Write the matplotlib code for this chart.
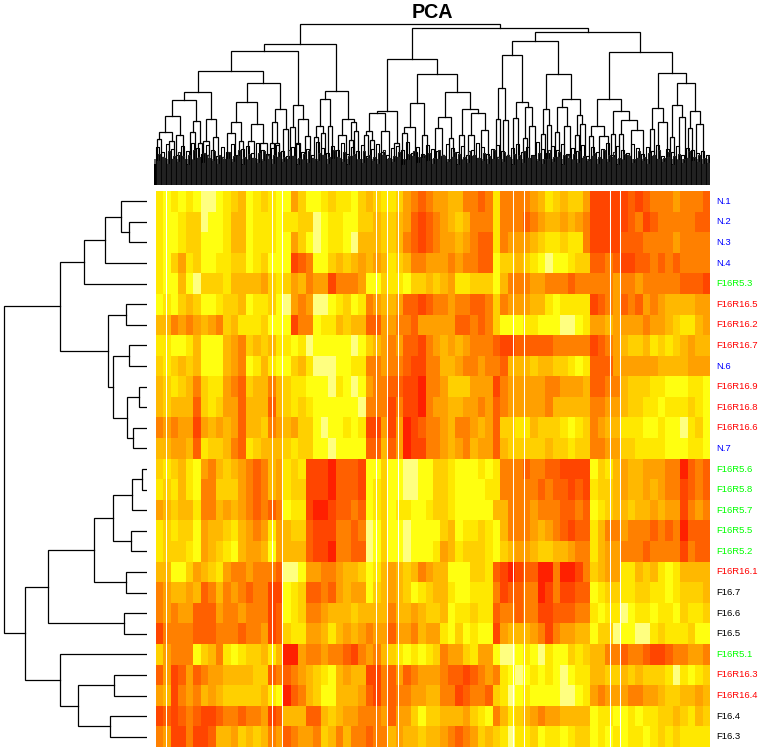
import matplotlib
matplotlib.use("Agg")
import matplotlib.pyplot as plt
from matplotlib.colors import ListedColormap
import numpy as np

plt.rcParams["font.family"] = ["Liberation Sans", "DejaVu Sans"]

TITLE = "PCA"
ROW_LABELS = ["N.1", "N.2", "N.3", "N.4", "F16R5.3", "F16R16.5", "F16R16.2", "F16R16.7", "N.6",
              "F16R16.9", "F16R16.8", "F16R16.6", "N.7", "F16R5.6", "F16R5.8", "F16R5.7", "F16R5.5",
              "F16R5.2", "F16R16.1", "F16.7", "F16.6", "F16.5", "F16R5.1", "F16R16.3", "F16R16.4",
              "F16.4", "F16.3"]
LABEL_COLORS = ["#0000ff"] * 4 + ["#00ff00"] + ["#ff0000"] * 3 + ["#0000ff"] + ["#ff0000"] * 3 + ["#0000ff"] \
    + ["#00ff00"] * 5 + ["#ff0000"] + ["black"] * 3 + ["#00ff00"] + ["#ff0000"] * 2 + ["black"] * 2

# heat levels, 0 = red ... 9 = pale yellow, one string per row
heat_left = [
    "7878789987 6587678846 8876778656 77643234",
    "7887669887 5587778776 6987788665 66542123",
    "7887668887 5587778846 8987789555 66532123",
    "7864768877 6687688812 3886565454 57653344",
    "7885896667 5555467645 3441333488 67786656",
    "8786568876 6587768943 4998768734 55422123",
    "5534345436 5777688813 3877565522 44332444",
    "7788758885 4365657787 9888889865 43422134",
    "6765658885 4387578865 7999887733 43321133",
    "5676536774 3265535677 8889789843 32211033",
    "5655526764 4255525676 7888888933 31311034",
    "3434414545 4255634546 6898878711 41401233",
    "5544527665 3276555676 6889888822 52401133",
    "6765784356 5432354767 1110222188 68899886",
    "7675783366 6432354766 1110222187 68899886",
    "4565573354 5432323877 1001223287 68778876",
    "7676684556 7543474566 2111332398 68898888",
    "7666784567 8544584555 2110332298 68898887",
    "5588645674 3343332998 4433455687 54565345",
    "3455452353 4323311876 2232454486 54568765",
    "3434422243 3433312876 3345556555 53554566",
    "1333322233 3233412677 4457545434 42443544",
    "6433386537 8766575004 3343321343 56787876",
    "2412423445 5556623234 5678545511 32423444",
    "4513435456 6666578023 5688555421 32334455",
    "1212321123 3233412555 2256544333 42446866",
    "3411311255 4656534234 4365353323 35455655",
]
heat_right = [
    "45533237 3333457656 6411111212 33343332",
    "4565333733 3234554543 1111123123 333322",
    "44543227 3444567767 7311112223 33343333",
    "4343322866 5678988766 2232112232 323333",
    "5477666853 3344333233 3334334333 332221",
    "3433223634 4455787777 1234232434 555544",
    "4422323688 8778889987 4454444344 567754",
    "5454333211 2222233333 1234566576 765455",
    "5543343325 5565566787 2224444445 555444",
    "4666444134 4444334445 2233566677 888778",
    "4554434234 4444355555 3344566778 777678",
    "4533454266 7756667876 3455777887 889768",
    "4543544256 6666566766 3344667777 888778",
    "6788878733 3233221111 8675455444 330232",
    "6788887733 3332322121 7665455454 331232",
    "6788888553 3343332232 8765565545 441343",
    "6587767853 3345432122 7533433323 230222",
    "4576667865 4456655433 7544333233 331322",
    "5888667210 1220030013 6544775657 875555",
    "5788777312 2330131122 8766776677 876665",
    "5877677233 2331122233 7877987787 786776",
    "7868788145 5543134455 8669889976 777688",
    "3446744899 8789788676 5533233211 233443",
    "3221234378 9878789877 5566565666 797876",
    "3312332679 8788889987 4344433445 665545",
    "5554678357 6543445555 8778878776 656756",
    "4323465679 7768778766 8787877876 767777",
]
# columns with no data (white lines), in heat column units
missing_cols = [1.33, 15.43, 16.89, 29.43, 30.85, 32.3, 47.7, 49.1, 60.7, 62.04]

# row tree: (height, upper, lower), plain ints are rows
row_tree = (143.3,
            (86.7,
             (63,
              (41.7, (26, 0, (17.7, 1, 2)), 3),
              4),
             (39,
              (20.7, 5, 6),
              (33.7,
               (17.7, 7, 8),
               (19.7, (7.7, 9, 10), (14.3, 11, 12))))),
            (122,
             (99.3,
              (53.3,
               (34.3, (14.7, (5.3, 13, 14), 15), (15.7, 16, 17)),
               (21.3, 18, 19)),
              (23.3, 20, 21)),
             (86.7,
              22,
              (69, (33.3, 23, 24), (36.7, 25, 26)))))

# column tree: (height, left, right), plain numbers are leaf ranks
col_tree = (160.7,
            (140.7,
             (134.3,
              (114,
               (93,
                (84.7,
                 (69.3, (53, (46, 1.3, 5.3), (44, 13, 18)), (50.3, 20.3, 26.7)),
                 (64, (53.3, 34.3, 38.7), (41.7, 41.7, 45.7))),
                (66.3, (43.7, 47.3, 53.3), (48.3, 57.3, 62.3))),
               (102.3,
                (82.7,
                 (63.3, (51.7, 70.7, 79), (44.3, 83, 87.3)),
                 (60.7, (44, 92.3, 98.3), (41.7, 103.7, 110.7))),
                (76,
                 (63.3, (42.3, 114.3, 118.3), (41.7, 119, 123)),
                 (55.7, 127.3, 132.3)))),
              (80, (57.7, 134.3, 139), (66.3, (42, 140.3, 144.3), (49, 149, 154)))),
             (94,
              (85.7,
               (58.7, (48.3, 157.7, 161.7), (51.7, 165.3, 169.3)),
               (58.7, 172.3, 176.3)),
              (66,
               (50, 181.7, 189.7),
               (62.7, (45, 192.7, 196.7), (54, 198.3, 202.3))))),
            (156.7,
             (126,
              (74,
               (71.7,
                (54.3, (50.3, 207.7, 212.3), (45, 214.3, 218.3)),
                (54.3, 224.7, 233)),
               (41.7, 238.3, 242.7)),
              (110.7,
               (82.3,
                (58, (51.7, 245.7, 250.7), (33, 257.3, 261.3)),
                (49.7, 265.7, 270.7)),
               (92.7,
                (67.7, (57, 278.7, 286), (46.7, 293.3, 297.3)),
                (76,
                 (50, 303.3, 308.3),
                 (72.3, (50, 312.3, 318.3), (54.7, 324.7, 332.3)))))),
             (153.3,
              (144,
               (130,
                (97.3, (65.7, 339.7, 343.7), (65, 347, 351.7)),
                (83,
                 (66.7, 356.7, 362.3),
                 (78.3, (46.7, 366.7, 370.7), (59.3, 373, 379.3)))),
               (110.7,
                (75.7, (51, 384.7, 388.7), (60, 391.3, 395.3)),
                (86.3,
                 (78, (53.3, 398.7, 402.7), (59.3, 408.3, 414)),
                 (70, (50, 419, 423), (61.3, 424, 428.7))))),
              (132.7,
               (86.3,
                (59, (49.3, 433.3, 437.3), (48.7, 443.3, 452)),
                (74,
                 (50.7, 455.3, 459.3),
                 (65, (51, 462.7, 466.7), (54.7, 474.7, 487)))),
               (111.7,
                (77.3, (56, 494.3, 498.3), (63.3, 502.3, 511.3)),
                (101.7,
                 (80.3, (48, 513.7, 517.7), (68.3, 523, 529.3)),
                 (74.3, (56.7, 532.3, 536.3), (61, 539.7, 547.3))))))))

# small merges at the bottom of the column tree, one per 5 leaves
upper_twigs = [38, 33, 41, 36, 30, 39, 34, 42, 37, 31, 40, 35, 29, 38, 33, 41, 30, 36, 39, 32, 42, 35, 31, 37, 40, 34, 29,
               38, 41, 33, 36, 30, 43, 37, 32, 39, 35, 42, 31, 38, 34, 40, 29, 36, 41, 33, 30, 37, 39, 35, 43, 32, 38, 31,
               40, 36, 34, 29, 41, 37, 33, 39, 30, 35, 42, 38, 31, 36, 40, 34, 29, 37, 41, 33, 38, 30, 43, 36, 32, 39, 35,
               41, 31, 37, 34, 40, 29, 38, 33, 36, 42, 30, 39, 35, 32, 41, 37, 31, 38, 34, 40, 29, 36, 33, 39, 30, 37, 35,
               32, 34, 30]
mid_twigs = [31, 27, 34, 29, 33, 26, 30, 35, 28, 32, 27, 34, 30, 26, 33, 29, 35, 28, 31, 27, 32, 34, 26, 30, 33, 28, 35,
             29, 27, 31, 34, 26, 32, 30, 28, 35, 27, 33, 29, 31, 26, 34, 30, 28, 32, 35, 27, 29, 33, 26, 31, 34, 28, 30,
             32, 27, 35, 29, 26, 33, 31, 28, 34, 30, 27, 32, 29, 35, 26, 33, 28, 31, 30, 34, 27, 29, 32, 26, 35, 28, 33,
             30, 27, 31, 34, 29, 26, 32, 28, 35, 30, 33, 27, 31, 29, 26, 34, 28, 32, 30, 35, 27, 33, 29, 31, 26, 34, 28,
             30, 27, 29]
lower_twigs = [24, 28, 21, 26, 23, 29, 20, 25, 27, 22, 30, 24, 21, 28, 26, 23, 29, 20, 25, 27, 22, 24, 30, 21, 28, 23, 26,
               29, 20, 25, 22, 27, 24, 30, 21, 26, 28, 23, 20, 29, 25, 22, 27, 24, 21, 30, 26, 23, 28, 20, 25, 29, 22, 27,
               24, 21, 26, 30, 23, 28, 20, 25, 22, 29, 27, 24, 21, 26, 28, 23, 30, 20, 25, 22, 27, 29, 24, 21, 26, 23, 28,
               20, 30, 25, 22, 27, 24, 29, 21, 26, 23, 28, 20, 25, 30, 22, 27, 24, 21, 29, 26, 23, 28, 20, 25, 22, 27, 24,
               23, 21, 22]
dense_floor = 21
heat_colors = ["#ff2000", "#ff4500", "#ff6000", "#ff8000", "#ffa000", "#ffb800", "#ffd000", "#ffe800", "#ffff10", "#ffff80"]


def draw_col_tree(ax, node):
    if not isinstance(node, tuple):
        return node, 0
    h, left, right = node
    xl, hl = draw_col_tree(ax, left)
    xr, hr = draw_col_tree(ax, right)
    ax.plot([xl, xl, xr, xr], [hl, h, h, hr], color="black", lw=0.9, solid_joinstyle="miter")
    return (xl + xr) / 2, h


def draw_row_tree(ax, node):
    if not isinstance(node, tuple):
        return node + 0.5, 0
    h, upper, lower = node
    yu, hu = draw_row_tree(ax, upper)
    yl, hl = draw_row_tree(ax, lower)
    ax.plot([hu, h, h, hl], [yu, yu, yl, yl], color="black", lw=0.9, solid_joinstyle="miter")
    return (yu + yl) / 2, h


W, H = 764, 751
fig = plt.figure(figsize=(W / 100, H / 100), dpi=100)

# heatmap
rows = [(a + b).replace(" ", "") for a, b in zip(heat_left, heat_right)]
values = np.array([[int(c) for c in r] for r in rows])
ax = fig.add_axes([156 / W, (H - 747) / H, 554 / W, 556 / H])
ax.imshow(values, cmap=ListedColormap(heat_colors), vmin=0, vmax=9, aspect="auto",
          interpolation="nearest", extent=(0, values.shape[1], values.shape[0], 0))
for col in missing_cols:
    ax.axvline(col, color="white", lw=0.75)
ax.axis("off")
for i, label in enumerate(ROW_LABELS):
    ax.annotate(label, (1, i + 0.5), xycoords=("axes fraction", "data"), xytext=(4.5, 0),
                textcoords="offset points", va="center", ha="left", fontsize=6.8, color=LABEL_COLORS[i])

# column dendrogram
top = fig.add_axes([154 / W, (H - 185) / H, 556 / W, 165 / H])
top.set_xlim(-2, 554)
top.set_ylim(0, 165)
top.axis("off")
draw_col_tree(top, col_tree)
for i in range(len(upper_twigs)):
    x0 = i * 5
    top.plot([x0, x0, x0 + 3, x0 + 3], [0, upper_twigs[i], upper_twigs[i], 0], color="black", lw=0.8)
    top.plot([x0 + 2, x0 + 2, x0 + 4, x0 + 4], [0, mid_twigs[i], mid_twigs[i], 0], color="#222222", lw=0.8)
    top.plot([x0 + 1, x0 + 1, x0 + 2.5, x0 + 2.5], [0, lower_twigs[i], lower_twigs[i], 0], color="#222222", lw=1.0)
top.axhspan(0, dense_floor, color="black", lw=0)
top.axhspan(dense_floor, dense_floor + 5, color="#333333", alpha=0.75, lw=0)

# row dendrogram
side = fig.add_axes([0, (H - 747) / H, 147 / W, 556 / H])
side.set_xlim(147, 0)
side.set_ylim(values.shape[0], 0)
side.axis("off")
draw_row_tree(side, row_tree)

fig.text(432.5 / W, (H - 12) / H, TITLE, ha="center", va="center", fontsize=14.2, fontweight="bold")

fig.savefig("out.png", dpi=100)
